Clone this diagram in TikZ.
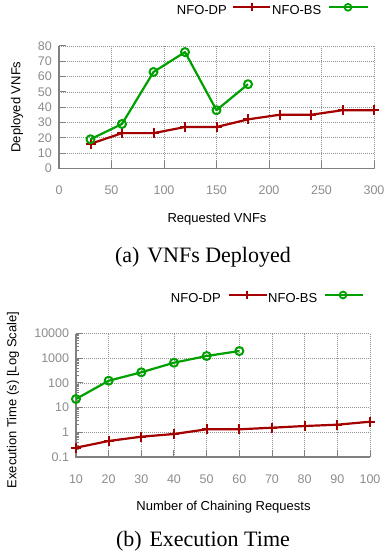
\documentclass[tikz,border=0pt]{standalone}
\usepackage{fontspec}
\setmainfont{Liberation Serif}
\setsansfont{Liberation Sans}
\usetikzlibrary{plotmarks}
\definecolor{dpred}{RGB}{165,0,0}
\definecolor{bsgreen}{RGB}{0,160,0}
\definecolor{axgray}{RGB}{128,128,128}
\definecolor{ticktext}{RGB}{140,140,140}
\begin{document}
\begin{tikzpicture}[x=1pt,y=-1pt,
  axisline/.style={draw=axgray, line width=1.2pt},
  tickline/.style={draw=axgray, line width=1pt},
  gridline/.style={draw=axgray!85, line width=0.5pt, dash pattern=on 0.8pt off 1.2pt},
  ticklab/.style={font=\sffamily\fontsize{12.5}{14}\selectfont, text=ticktext, inner sep=0pt},
  axlab/.style={font=\sffamily\fontsize{13}{15}\selectfont, inner sep=0pt},
  captionlab/.style={font=\rmfamily\fontsize{22}{26}\selectfont, inner sep=0pt},
  dpline/.style={draw=dpred, line width=2.2pt, line join=round, mark=+, mark size=5pt, mark options={line width=2pt, solid}},
  bsline/.style={draw=bsgreen, line width=2.2pt, line join=round, mark=o, mark size=4pt, mark options={line width=2pt, solid}},
  dpleg/.style={draw=dpred, line width=2pt},
  bsleg/.style={draw=bsgreen, line width=2pt}]
\useasboundingbox (0,0) rectangle (387,557);

% ---------------- Plot (a)
\begin{scope}[shift={(59pt,-168.3pt)}, x=1.05pt, y=1.529pt]
  \foreach \v in {10,20,...,80} \draw[gridline] (0,\v) -- (300,\v);
  \foreach \u in {50,100,...,300} \draw[gridline] (\u,0) -- (\u,80);
  \draw[axisline] (0,80) -- (0,0) -- (300,0);
  \foreach \v in {0,10,...,80} {
    \draw[tickline] (0,\v) -- ++(7pt,0pt);
    \node[ticklab, anchor=east] (ya\v) at ([xshift=-7pt]0,\v) {\v};
  }
  \foreach \u in {0,50,...,300} {
    \draw[tickline] (\u,0) -- ++(0pt,7pt);
    \node[ticklab] (xa\u) at ([yshift=-21.7pt]\u,0) {\u};
  }
  \draw[dpline] plot coordinates {(30,16) (60,23) (90,23) (120,27) (150,27) (180,32) (210,35) (240,35) (270,38) (300,38)};
  \draw[bsline] plot coordinates {(30,19) (60,29) (90,63) (120,76) (150,38) (180,55)};
\end{scope}
\node[axlab, rotate=90] (ylabA) at (17,107) {Deployed VNFs};
\node[axlab] (xlabA) at (217,219) {Requested VNFs};
\node[captionlab] (capA) at (203,257) {(a)\hspace{0.35em}VNFs Deployed};
% legend (a)
\node[axlab, anchor=east] (legdpA) at (227,10.5) {NFO-DP};
\node[axlab, anchor=west] (legbsA) at (272,10.5) {NFO-BS};
\coordinate (ldpA1) at (233,7.3); \coordinate (ldpA2) at (270,7.3);
\coordinate (lbsA1) at (329,7.3); \coordinate (lbsA2) at (368,7.3);
\draw[dpleg] (ldpA1) -- (ldpA2);
\draw[dpleg] (252,3.3) -- (252,11.3);
\draw[bsleg] (lbsA1) -- (lbsA2);
\draw[bsleg, line width=1.8pt] (348,7.3) circle (3.4pt);

% ---------------- Plot (b)
\begin{scope}[shift={(43.33pt,-432.3pt)}, x=3.2667pt, y=24.7pt]
  \foreach \v in {0,1,2,3,4} \draw[gridline] (10,\v) -- (100,\v);
  \foreach \u in {20,30,...,100} \draw[gridline] (\u,-1) -- (\u,4);
  \draw[axisline] (10,4) -- (10,-1) -- (100,-1);
  \foreach \d/\lab in {-1/0.1,0/1,1/10,2/100,3/1000,4/10000} {
    \draw[tickline] (10,\d) -- ++(7pt,0pt);
    \node[ticklab, anchor=east] at ([xshift=-6.7pt]10,\d) {\lab};
  }
  \foreach \d in {-1,0,1,2,3} {
    \foreach \k in {2,...,9} {
      \draw[tickline] (10,{\d+log10(\k)}) -- ++(3.5pt,0pt);
    }
  }
  \foreach \u in {10,20,...,100} {
    \draw[tickline] (\u,-1) -- ++(0pt,7pt);
    \node[ticklab] at ([yshift=-22pt]\u,-1) {\u};
  }
  \draw[dpline] plot coordinates {(10,-0.623) (20,-0.352) (30,-0.178) (40,-0.069) (50,0.121) (60,0.121) (70,0.186) (80,0.255) (90,0.308) (100,0.429)};
  \draw[bsline] plot coordinates {(10,1.348) (20,2.089) (30,2.429) (40,2.818) (50,3.089) (60,3.291)};
\end{scope}
\node[axlab, rotate=90] (ylabB) at (13,400) {Execution Time (s) [Log Scale]};
\node[axlab] (xlabB) at (223.5,507) {Number of Chaining Requests};
\node[captionlab] (capB) at (203,541) {(b)\hspace{0.35em}Execution Time};
% legend (b)
\node[axlab, anchor=east] (legdpB) at (221,298.3) {NFO-DP};
\node[axlab, anchor=west] (legbsB) at (268,298.3) {NFO-BS};
\coordinate (ldpB1) at (229,295); \coordinate (ldpB2) at (267,295);
\coordinate (lbsB1) at (325,295); \coordinate (lbsB2) at (363,295);
\draw[dpleg] (ldpB1) -- (ldpB2);
\draw[dpleg] (247,291) -- (247,299);
\draw[bsleg] (lbsB1) -- (lbsB2);
\draw[bsleg, line width=1.8pt] (343,295) circle (3.4pt);
\end{tikzpicture}
\end{document}
